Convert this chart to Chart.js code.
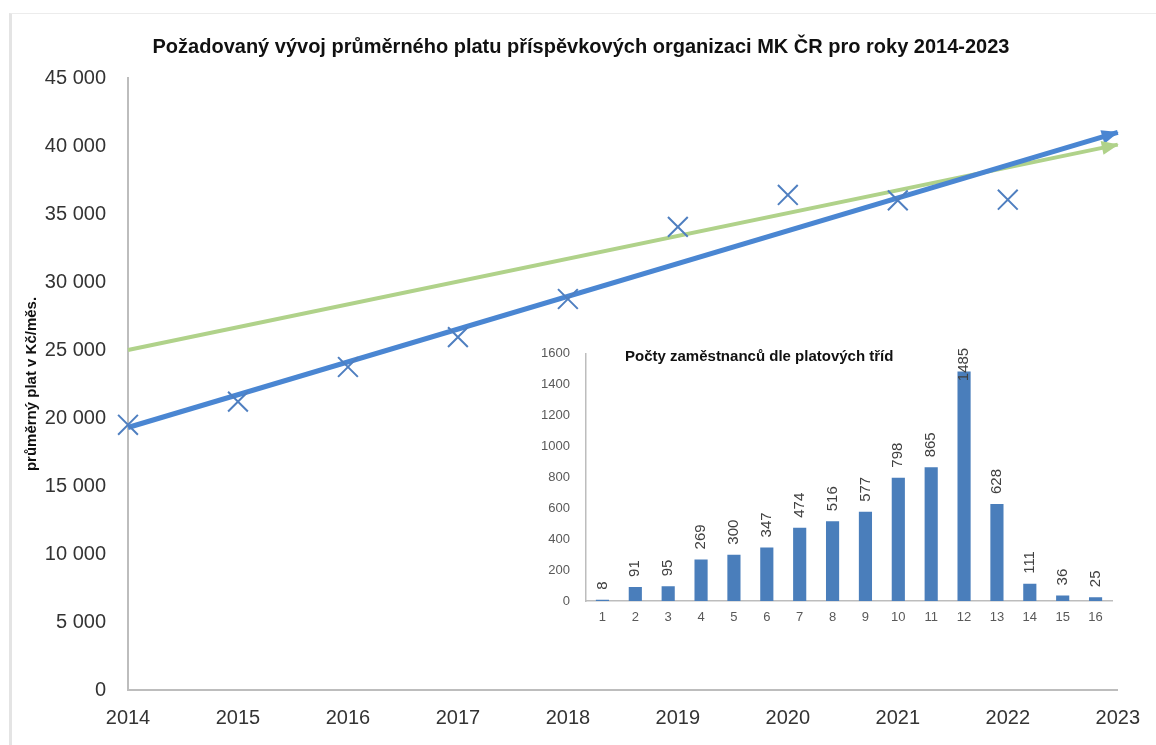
<!DOCTYPE html>
<html>
<head>
<meta charset="utf-8">
<script src="https://cdn.jsdelivr.net/npm/chart.js@4"></script>
<style>
body{margin:0;background:#fff;}
#wrap{position:relative;width:1156px;height:745px;overflow:hidden;}
#frame{position:absolute;left:9px;top:13px;width:1160px;height:760px;border-left:3px solid #e4e4e4;border-top:1px solid #ececec;pointer-events:none;}
#hlavni{position:absolute;left:0;top:0;}
#vlozeny{position:absolute;left:530px;top:330px;}
</style>
</head>
<body>
<div id="wrap">
<div id="frame"></div>
<canvas id="hlavni" width="1156" height="745"></canvas>
<canvas id="vlozeny" width="600" height="300"></canvas>
</div>
<script>
// prumerny plat - skutecnost
let roky=[2014,2015,2016,2017,2018,2019,2020,2021,2022]
let prumernyPlat=[19500,21200,23750,25950,28750,34050,36400,36000,36050]

// trendove cary (zacatek a konec)
let trendRoky=[2014,2023]
let trendModra=[19300,41000]
let trendZelena=[25000,40100]

// vlozeny graf
let tridy=["1","2","3","4","5","6","7","8","9","10","11","12","13","14","15","16"]
let pocty=[8,91,95,269,300,347,474,516,577,798,865,1485,628,111,36,25]

let nadpis="Požadovaný vývoj průměrného platu příspěvkových organizaci MK ČR pro roky 2014-2023"
let nadpisVlozeny="Počty zaměstnanců dle platových tříd"

let pismo="'Liberation Sans', Arial, sans-serif"

function body(xs,ys){
return xs.map((x,i)=>({x:x,y:ys[i]}))
}

function mezery(v){
return String(v).replace(/\B(?=(\d{3})+(?!\d))/g," ")
}

// sipky na konci car + nadpis
let sipky={
id:"sipky",
afterDatasetsDraw(chart){
let ctx=chart.ctx
chart.data.datasets.forEach((ds,i)=>{
if(!ds.sipka) return
let pts=chart.getDatasetMeta(i).data
let a=pts[pts.length-2], b=pts[pts.length-1]
let uhel=Math.atan2(b.y-a.y,b.x-a.x)
ctx.save()
ctx.translate(b.x,b.y)
ctx.rotate(uhel)
ctx.fillStyle=ds.borderColor
ctx.beginPath()
ctx.moveTo(1,0)
ctx.lineTo(-16,-7)
ctx.lineTo(-16,7)
ctx.closePath()
ctx.fill()
ctx.restore()
})
ctx.save()
ctx.font="bold 20px "+pismo
ctx.fillStyle="#111"
ctx.textAlign="center"
ctx.textBaseline="middle"
ctx.fillText(nadpis,chart.width/2+3,47)
ctx.restore()
}
}

new Chart(document.getElementById("hlavni"),{
type:"scatter",
data:{
datasets:[
{
data:body(roky,prumernyPlat),
pointStyle:"crossRot",
pointRadius:14,
pointBorderWidth:2,
borderColor:"#4f7fc0",
backgroundColor:"#4f7fc0",
clip:false
},
{
data:body(trendRoky,trendModra),
showLine:true,
borderColor:"#4a86d2",
borderWidth:5,
pointRadius:0,
sipka:true,
clip:false
},
{
data:body(trendRoky,trendZelena),
showLine:true,
borderColor:"#b0d28a",
borderWidth:4,
pointRadius:0,
sipka:true,
clip:false
}
]
},
options:{
responsive:false,
animation:false,
layout:{padding:{left:0,right:37,top:78,bottom:0}},
plugins:{
legend:{display:false},
tooltip:{enabled:false},
title:{display:false}
},
scales:{
x:{
type:"linear",
min:2014,
max:2023,
grid:{display:false,drawTicks:false},
border:{color:"#bdbdbd",width:2},
ticks:{stepSize:1,padding:16,color:"#333",font:{family:pismo,size:20},callback:v=>String(v)},
afterFit(s){s.height=55}
},
y:{
min:0,
max:45000,
grid:{display:false,drawTicks:false},
border:{color:"#bdbdbd",width:2},
ticks:{stepSize:5000,padding:22,color:"#333",font:{family:pismo,size:20},callback:v=>mezery(v)},
title:{display:true,text:"průměrný plat v Kč/měs.",color:"#111",font:{family:pismo,size:15,weight:"bold"},padding:{top:23,bottom:0}},
afterFit(s){s.width=128}
}
}
},
plugins:[sipky]
})

// popisky nad sloupci a nadpis vlozeneho grafu
let popisky={
id:"popisky",
afterDatasetsDraw(chart){
let ctx=chart.ctx
let area=chart.chartArea
ctx.save()
ctx.font="bold 15px "+pismo
ctx.fillStyle="#111"
ctx.textBaseline="middle"
ctx.fillText(nadpisVlozeny,area.left+39,area.top+3)
ctx.font="15px "+pismo
ctx.fillStyle="#404040"
chart.getDatasetMeta(0).data.forEach((bar,i)=>{
let t=String(pocty[i])
let w=ctx.measureText(t).width
let dole=bar.y-10
if(dole-w<area.top-6) dole=area.top-6+w
ctx.save()
ctx.translate(bar.x,dole)
ctx.rotate(-Math.PI/2)
ctx.textAlign="left"
ctx.fillText(t,0,0)
ctx.restore()
})
ctx.restore()
}
}

new Chart(document.getElementById("vlozeny"),{
type:"bar",
data:{
labels:tridy,
datasets:[{
data:pocty,
backgroundColor:"#4a7ebb",
categoryPercentage:1,
barPercentage:0.4
}]
},
options:{
responsive:false,
animation:false,
layout:{padding:{left:0,right:18,top:20,bottom:0}},
plugins:{legend:{display:false},tooltip:{enabled:false}},
scales:{
x:{
grid:{display:false,drawTicks:false},
border:{color:"#bdbdbd",width:1.5},
ticks:{padding:9,color:"#595959",font:{family:pismo,size:13}},
afterFit(s){s.height=29}
},
y:{
min:0,
max:1600,
grid:{display:false,drawTicks:false},
border:{color:"#bdbdbd",width:1.5},
ticks:{stepSize:200,padding:16,color:"#595959",font:{family:pismo,size:13},callback:v=>String(v)},
afterFit(s){s.width=56}
}
}
},
plugins:[popisky]
})
</script>
</body>
</html>
